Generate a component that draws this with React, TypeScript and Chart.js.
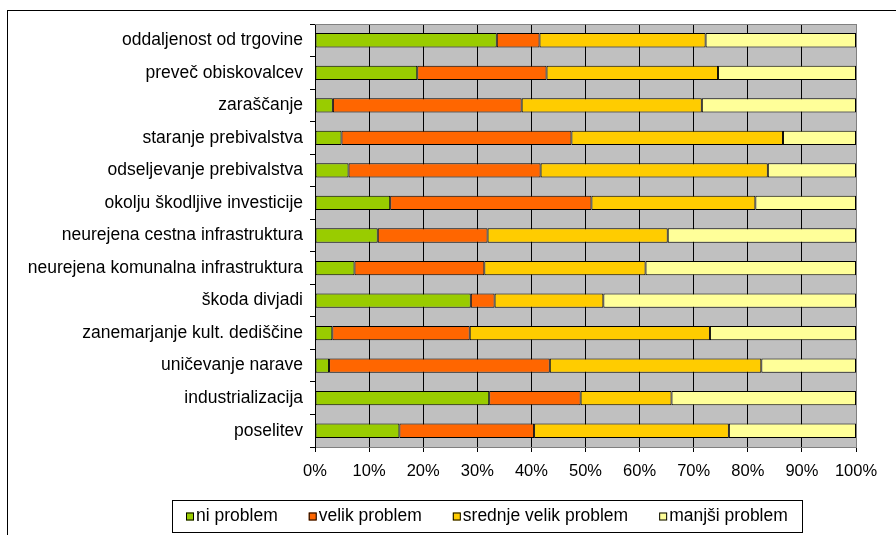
import React, { useEffect, useRef } from 'react';
import { Chart, registerables } from 'chart.js';

Chart.register(...registerables);

const categories = [
  'oddaljenost od trgovine',
  'preveč obiskovalcev',
  'zaraščanje',
  'staranje prebivalstva',
  'odseljevanje prebivalstva',
  'okolju škodljive investicije',
  'neurejena cestna infrastruktura',
  'neurejena komunalna infrastruktura',
  'škoda divjadi',
  'zanemarjanje kult. dediščine',
  'uničevanje narave',
  'industrializacija',
  'poselitev',
];

const niProblem = [33.6, 18.9, 3.3, 4.9, 6.2, 13.9, 11.6, 7.3, 28.8, 3.2, 2.6, 32.2, 15.6];
const velikProblem = [7.9, 23.9, 34.9, 42.5, 35.5, 37.2, 20.3, 24.0, 4.4, 25.4, 40.8, 16.9, 24.9];
const srednjeVelikProblem = [30.7, 31.7, 33.3, 39.1, 42.0, 30.3, 33.3, 29.8, 20.1, 44.4, 39.1, 16.8, 36.0];
const manjsiProblem = [27.8, 25.5, 28.5, 13.5, 16.3, 18.6, 34.8, 38.9, 46.7, 27.0, 17.5, 34.1, 23.5];

const seriesNames = ['ni problem', 'velik problem', 'srednje velik problem', 'manjši problem'];
const seriesColors = ['#99CC00', '#FF6600', '#FFCC00', '#FFFF99'];

const FONT_FAMILY = '"Liberation Sans", Arial, sans-serif';

export default function App() {
  const canvasRef = useRef<HTMLCanvasElement | null>(null);

  useEffect(() => {
    const canvas = canvasRef.current;
    if (!canvas) return;

    const backgroundPlugin = {
      id: 'plotBackground',
      beforeDraw(chart: any) {
        const { ctx, chartArea: a } = chart;
        ctx.save();
        ctx.fillStyle = '#ffffff';
        ctx.fillRect(0, 0, chart.width, chart.height);
        ctx.fillStyle = '#C0C0C0';
        ctx.fillRect(a.left, a.top, a.right - a.left, a.bottom - a.top);
        ctx.restore();
      },
      beforeDatasetsDraw(chart: any) {
        const { ctx, chartArea: a } = chart;
        ctx.save();
        ctx.strokeStyle = '#808080';
        ctx.lineWidth = 1;
        ctx.beginPath();
        ctx.moveTo(a.left, a.top + 0.5);
        ctx.lineTo(a.right + 0.5, a.top + 0.5);
        ctx.lineTo(a.right + 0.5, a.bottom);
        ctx.stroke();
        ctx.restore();
      },
      afterDraw(chart: any) {
        const ctx = chart.ctx;
        ctx.save();
        // outer frame
        ctx.strokeStyle = '#000000';
        ctx.lineWidth = 1;
        ctx.strokeRect(7.5, 10.5, chart.width + 20, chart.height + 20);

        // legend box
        const boxL = 172, boxR = 802, boxT = 500, boxB = 532;
        ctx.strokeRect(boxL + 0.5, boxT + 0.5, boxR - boxL, boxB - boxT);
        ctx.font = `17.5px ${FONT_FAMILY}`;
        ctx.textBaseline = 'middle';
        ctx.textAlign = 'left';
        const cy = (boxT + boxB) / 2 + 0.5;
        let x = 186;
        const marker = 8;
        const gap = 2;
        const spacing = 31;
        chart.data.datasets.forEach((ds: any) => {
          ctx.fillStyle = ds.backgroundColor;
          ctx.fillRect(x, cy - marker / 2, marker, marker);
          ctx.strokeStyle = '#000000';
          ctx.strokeRect(x + 0.5, cy - marker / 2 + 0.5, marker - 1, marker - 1);
          ctx.fillStyle = '#000000';
          const tx = x + marker + gap;
          ctx.fillText(ds.label, tx, cy);
          x = tx + ctx.measureText(ds.label).width + spacing;
        });
        ctx.restore();
      },
    };

    const seriesData = [niProblem, velikProblem, srednjeVelikProblem, manjsiProblem];

    const chart = new Chart(canvas, {
      type: 'bar',
      data: {
        labels: categories,
        datasets: seriesNames.map((name, i) => ({
          label: name,
          data: seriesData[i],
          backgroundColor: seriesColors[i],
          borderColor: '#000000',
          borderWidth: 1,
          borderSkipped: false,
          barPercentage: 0.44,
          categoryPercentage: 1,
        })),
      },
      options: {
        indexAxis: 'y',
        responsive: false,
        animation: false,
        devicePixelRatio: 1,
        layout: { padding: { left: 0, top: 24, right: 40, bottom: 48 } },
        plugins: {
          legend: { display: false },
          tooltip: { enabled: false },
          title: { display: false },
        },
        scales: {
          x: {
            stacked: true,
            min: 0,
            max: 100,
            afterFit(scale: any) {
              scale.height = 40;
            },
            ticks: {
              stepSize: 10,
              color: '#000000',
              padding: 10,
              maxRotation: 0,
              font: { family: FONT_FAMILY, size: 16.5 },
              callback: (v: any) => `${v}%`,
            },
            grid: {
              display: true,
              drawOnChartArea: true,
              drawTicks: true,
              tickLength: 5,
              color: (c: any) => (c.tick && c.tick.value === 100 ? '#808080' : '#000000'),
              tickColor: '#000000',
              lineWidth: 1,
            },
            border: { display: true, color: '#808080', width: 1 },
          },
          y: {
            stacked: true,
            afterFit(scale: any) {
              scale.width = 315;
            },
            ticks: {
              color: '#000000',
              padding: 7,
              font: { family: FONT_FAMILY, size: 17.5 },
            },
            grid: {
              display: true,
              drawOnChartArea: false,
              drawTicks: true,
              tickLength: 5,
              offset: true,
              color: '#000000',
              tickColor: '#000000',
            },
            border: { display: true, color: '#000000', width: 1 },
          },
        },
      } as any,
      plugins: [backgroundPlugin],
    });

    return () => {
      chart.destroy();
    };
  }, []);

  return (
    <div style={{ position: 'fixed', left: 0, top: 0, width: 896, height: 535, background: '#fff' }}>
      <canvas ref={canvasRef} width={896} height={535} style={{ width: 896, height: 535, display: 'block' }} />
    </div>
  );
}
